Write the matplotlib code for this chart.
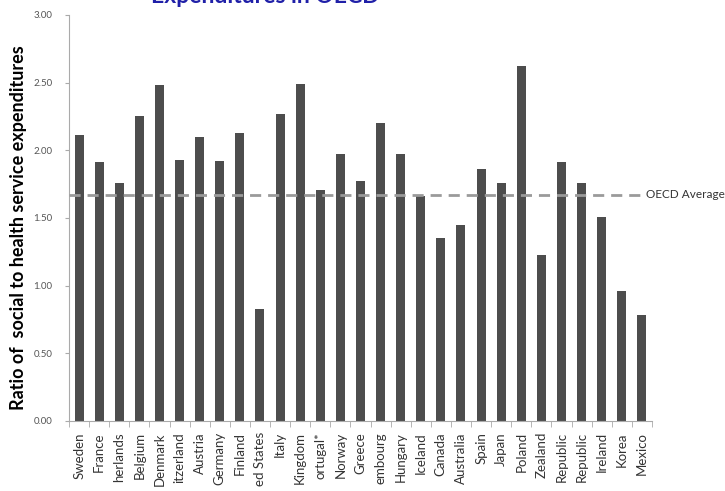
import matplotlib
matplotlib.use('Agg')
import matplotlib.pyplot as plt
import numpy as np

# labels as far as they are visible in the (cropped) source image
countries = ['Sweden', 'France', 'herlands', 'Belgium', 'Denmark', 'itzerland',
             'Austria', 'Germany', 'Finland', 'ed States', 'Italy', 'Kingdom',
             'ortugal*', 'Norway', 'Greece', 'embourg', 'Hungary', 'Iceland', 'Canada',
             'Australia', 'Spain', 'Japan', 'Poland', 'Zealand', 'Republic',
             'Republic', 'Ireland', 'Korea', 'Mexico']
ratios = [2.11, 1.91, 1.76, 2.25, 2.48, 1.93, 2.10, 1.92, 2.13, 0.83, 2.27, 2.49,
          1.71, 1.97, 1.77, 2.20, 1.97, 1.66, 1.35, 1.45, 1.86, 1.76, 2.62, 1.23,
          1.91, 1.76, 1.51, 0.96, 0.78]
oecd_average = 1.67
yticks = [0.0, 0.5, 1.0, 1.5, 2.0, 2.5, 3.0]

plt.rcParams['font.family'] = ['Lato', 'DejaVu Sans']

fig = plt.figure(figsize=(7.25, 4.91), dpi=100)
ax = fig.add_axes([0.0952, 0.1426, 0.804, 0.827])

index = np.arange(len(countries))
ax.bar(index, ratios, 0.45, color='#4d4d4d', zorder=2)
ax.plot([-0.5, index[-1] + 0.15], [oecd_average, oecd_average], color='#9a9a9a',
        linestyle=(0, (4, 2.5)), linewidth=2, zorder=3, clip_on=False)
ax.text(index[-1] + 0.2, oecd_average, 'OECD Average', va='center', ha='left',
        fontsize=8.5, color='#333333', clip_on=False)

ax.set_xlim(-0.5, len(countries) - 0.5)
ax.set_ylim(0, 3)
ax.set_yticks(yticks)
ax.set_yticklabels([f'{v:.2f}' for v in yticks], fontsize=7, color='#555555')
ax.set_xticks(index)
ax.set_xticklabels(countries, rotation=90, fontsize=9.5, color='#333333', va='top')
ax.set_xticks(np.arange(len(countries) + 1) - 0.5, minor=True)
ax.tick_params(axis='x', which='major', length=0, pad=8)
ax.tick_params(axis='x', which='minor', length=4, color='#aaaaaa')
ax.tick_params(axis='y', length=3, color='#aaaaaa', pad=9)

for side in ['top', 'right']:
    ax.spines[side].set_visible(False)
ax.spines['left'].set_color('#aaaaaa')
ax.spines['bottom'].set_color('#aaaaaa')

fig.text(19 / 725, 1 - 228 / 491, 'Ratio of  social to health service expenditures',
         rotation=90, fontsize=13, fontweight='bold', ha='center', va='center')

fig.text(0.366, 1 - 3 / 491, 'Expenditures in OECD', color='#2020a8', fontsize=16.5,
         fontweight='bold', ha='center', va='baseline')

fig.savefig('out.png', dpi=100)
